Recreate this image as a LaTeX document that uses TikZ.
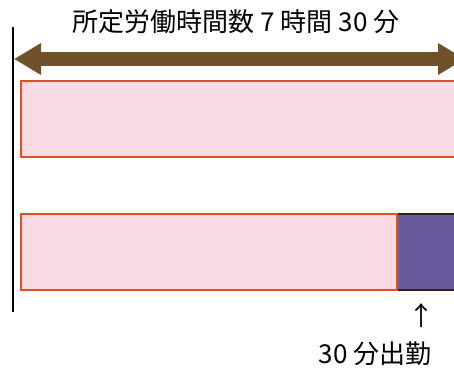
\documentclass[tikz,border=0pt]{standalone}
\usepackage{fontspec}
\setmainfont{Noto Sans CJK JP}
\usetikzlibrary{arrows.meta}
\definecolor{barpink}{HTML}{F9DAE2}
\definecolor{barline}{HTML}{E0531E}
\definecolor{barpurple}{HTML}{685A9B}
\definecolor{spanbrown}{HTML}{70522A}
\definecolor{baseline}{HTML}{2B1E1E}

\begin{document}
\begin{tikzpicture}[x=1pt, y=-1pt]
    \tikzstyle{every node}=[inner sep=0pt, outer sep=0pt, font=\fontsize{26}{26}\selectfont]
    \tikzstyle{pinkbar}=[draw=barline, fill=barpink, line width=2pt, minimum height=76pt, anchor=north west]
    \tikzstyle{extrabar}=[draw=baseline, fill=barpurple, line width=2pt, minimum height=76pt, anchor=north west]
    \useasboundingbox (0,0) rectangle (454,367);
    % start line and span arrow
    \coordinate (top) at (13,27);
    \coordinate (bottom) at (13,312);
    \coordinate (spanL) at (14,59);
    \coordinate (spanR) at (465,59);
    \draw[baseline, line width=1.6pt] (top) -- (bottom);
    \draw[spanbrown, line width=14pt, {Triangle[width=30pt,length=27pt]}-{Triangle[width=30pt,length=27pt]}] (spanL) -- (spanR);
    \node (title) at (236,22) {所定労働時間数 7 時間 30 分};
    % bars
    \node[pinkbar, minimum width=460pt] (full) at (21,81) {};
    \node[extrabar, minimum width=80pt] (extra) at (397,214) {};
    \node[pinkbar, minimum width=376pt] (work) at (21,214) {};
    \node (mark) at (421,316) {↑};
    \node (late) at (375,354) {30 分出勤};
\end{tikzpicture}
\end{document}
